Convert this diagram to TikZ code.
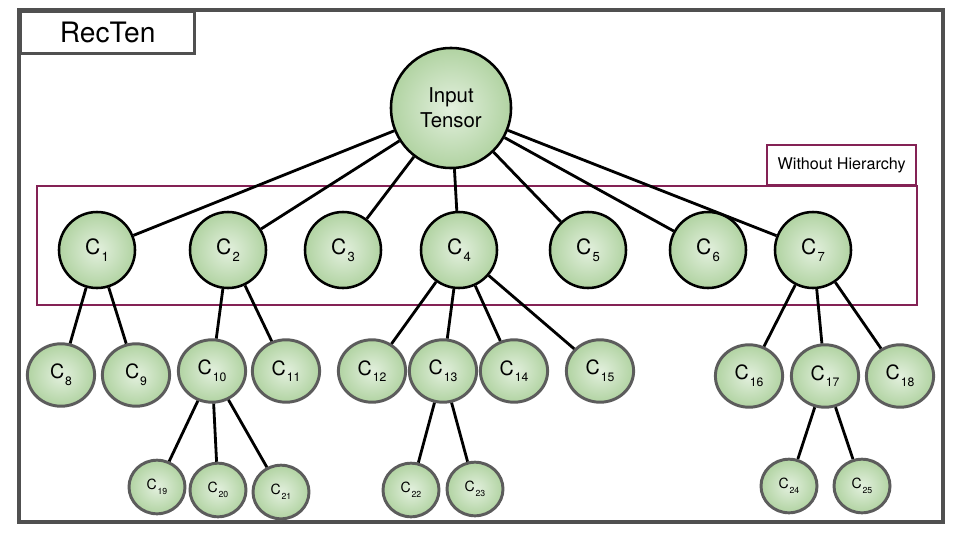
\documentclass[tikz,border=0pt]{standalone}
\usepackage{fontspec}
\setmainfont{TeX Gyre Heros}
\usepackage{tikz}
\usetikzlibrary{positioning,shapes.geometric}
\definecolor{LeafGreen}{HTML}{B1D3A2}
\definecolor{PaleGreen}{HTML}{E3F0DE}
\definecolor{FrameGray}{HTML}{505050}
\definecolor{RimGray}{HTML}{5C5C5C}
\definecolor{BoxPlum}{HTML}{842255}
\makeatletter
\newcommand{\Cs}[1]{C\kern.05em\raisebox{-.65ex}{\fontsize{\fpeval{0.62*\f@size}}{0}\selectfont#1}}
\makeatother
\tikzset{
  % Base bubble
  BB/.style={inner sep=0pt,align=center,
             inner color=PaleGreen,outer color=LeafGreen},
  % Levels
  root/.style={BB,circle,draw=black,line width=1.8pt,minimum size=3cm,
               font=\fontsize{14.5}{18}\selectfont},
  L1/.style={BB,circle,draw=black,line width=1.8pt,minimum size=1.9cm,
             font=\fontsize{15}{18}\selectfont},
  L2/.style={BB,ellipse,draw=RimGray,line width=2.1pt,
             minimum width=1.68cm,minimum height=1.56cm,
             font=\fontsize{14}{17}\selectfont},
  L3/.style={BB,ellipse,draw=RimGray,line width=2.1pt,
             minimum width=1.4cm,minimum height=1.34cm,
             font=\fontsize{10}{12}\selectfont},
  % Edge
  ln/.style={line width=2pt,black},
  % Frames
  frm/.style={draw=FrameGray,line width=2.3pt},
  ttl/.style={frm,rectangle,fill=white,minimum width=4.35cm,minimum height=1.05cm,
              font=\fontsize{20}{24}\selectfont},
  grp/.style={draw=BoxPlum,line width=1.3pt},
  grpLbl/.style={grp,rectangle,minimum width=3.72cm,minimum height=1cm,
                 font=\fontsize{11.5}{14}\selectfont}
}
\begin{document}
\begin{tikzpicture}[x=0.025cm,y=-0.025cm]
  \useasboundingbox (0,0) rectangle (960,540);
  \draw[frm] (19,10) rectangle (943,522);
  \node[ttl,anchor=north west] (title) at (19,10) {RecTen};

  % group box
  \draw[grp] (37,186) rectangle (917,305);
  \node[grpLbl,anchor=south east] (wh) at (917,186) {Without Hierarchy};

  \node[root] (inp) at (451,108) {Input\\Tensor};

  % first level
  \foreach \i/\x in {1/97,2/228,3/343,4/459,5/588,6/708,7/813}
    \node[L1] (c\i) at (\x,250) {\Cs{\i}};

  % second level
  \node[L2] (c8)  at (61,375)  {\Cs{8}};
  \node[L2] (c9)  at (136,375) {\Cs{9}};
  \node[L2] (c10) at (212,371) {\Cs{10}};
  \node[L2] (c11) at (286,371) {\Cs{11}};
  \node[L2] (c12) at (372,371) {\Cs{12}};
  \node[L2] (c13) at (443,371) {\Cs{13}};
  \node[L2] (c14) at (514,371) {\Cs{14}};
  \node[L2] (c15) at (600,371) {\Cs{15}};
  \node[L2] (c16) at (749,376) {\Cs{16}};
  \node[L2] (c17) at (825,376) {\Cs{17}};
  \node[L2] (c18) at (900,376) {\Cs{18}};

  % third level
  \node[L3] (c19) at (157,487) {\Cs{19}};
  \node[L3] (c20) at (218,490) {\Cs{20}};
  \node[L3] (c21) at (281,492) {\Cs{21}};
  \node[L3] (c22) at (411,490) {\Cs{22}};
  \node[L3] (c23) at (475,489) {\Cs{23}};
  \node[L3] (c24) at (789,486) {\Cs{24}};
  \node[L3] (c25) at (862,486) {\Cs{25}};

  \foreach \i in {1,...,7}
    \draw[ln] (inp) -- (c\i);
  \foreach \a/\b in {c1/c8,c1/c9,c2/c10,c2/c11,c4/c12,c4/c13,c4/c14,c4/c15,
                     c7/c16,c7/c17,c7/c18,c10/c19,c10/c20,c10/c21,
                     c13/c22,c13/c23,c17/c24,c17/c25}
    \draw[ln] (\a) -- (\b);
\end{tikzpicture}
\end{document}
